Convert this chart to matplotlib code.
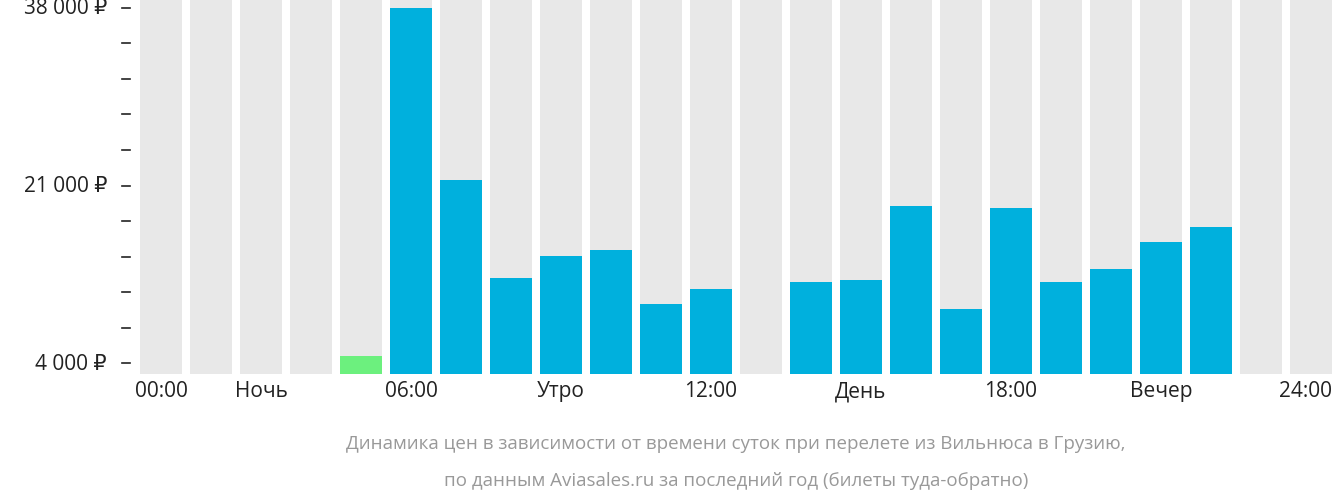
import matplotlib
matplotlib.use("Agg")
import matplotlib.pyplot as plt
import numpy as np

plt.rcParams['font.family'] = ['Open Sans', 'DejaVu Sans']

hours = list(range(24))
prices = [None, None, None, None, 4670, 38000, 21500, 12150, 14250, 14800, 9650, 11100,
          None, 11750, 11950, 19050, 9200, 18850, 11750, 13000, 15600, 17000, None, None]
cheapest_idx = 4
xtick_pos = [0, 2, 5, 8, 11, 14, 17, 20]
xtick_labels = ["00:00", "Ночь", "06:00", "Утро", "12:00", "День", "18:00", "Вечер"]
ymajor = [4000, 21000, 38000]
yminor = [4000 + 3400 * k for k in range(11)]

W, H = 1332, 502
fig = plt.figure(figsize=(W / 100, H / 100), dpi=100)
ax = fig.add_axes([140 / W, 1 - 375 / H, 1192 / W, 375 / H])
ymin, ymax = 2950, 38860
ax.set_xlim(-0.42, 23.42)
ax.set_ylim(ymin, ymax)

ax.bar(hours, [ymax - ymin] * 24, bottom=ymin, width=0.84, color='#e8e8e8')
for i, p in zip(hours, prices):
    if p is None:
        continue
    c = '#6cf07e' if i == cheapest_idx else '#00b0dd'
    ax.bar(i, p - ymin, bottom=ymin, width=0.84, color=c)

for s in ax.spines.values():
    s.set_visible(False)
ax.set_xticks([])
ax.set_yticks([])
for y in yminor:
    ax.plot([-0.42 - 18 / 50, -0.42 - 10 / 50], [y, y], color='#222', lw=1.2, clip_on=False)
for y in ymajor:
    ax.text(-0.42 - 33 / 50, y, f"{y:,} ₽".replace(",", " "), ha='right', va='center',
            fontsize=15, color='#222')
for p, l in zip(xtick_pos, xtick_labels):
    ax.text(p, ymin - 600, l, ha='center', va='top', fontsize=15, color='#222')
ax.text(23.42, ymin - 600, "24:00", ha='right', va='top', fontsize=15, color='#222')

fig.text(736 / W, 1 - 444 / H, "Динамика цен в зависимости от времени суток при перелете из Вильнюса в Грузию,",
         ha='center', va='center', fontsize=13.5, color='#999')
fig.text(736 / W, 1 - 481 / H, "по данным Aviasales.ru за последний год (билеты туда-обратно)",
         ha='center', va='center', fontsize=13.5, color='#999')
fig.savefig('out.png', dpi=100)
